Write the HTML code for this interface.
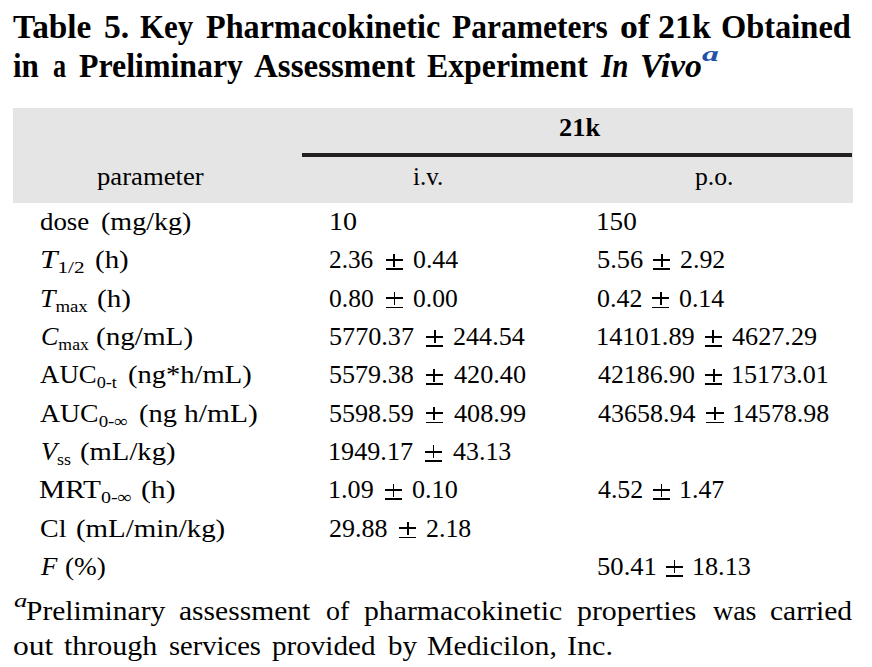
<!DOCTYPE html>
<html><head><meta charset="utf-8"><style>
html,body{margin:0;padding:0;background:#fff;}
body{width:872px;height:667px;position:relative;overflow:hidden;font-family:"Liberation Serif",serif;color:#000;}
.t{position:absolute;white-space:nowrap;line-height:1;transform-origin:0 0;}
.b{font-weight:bold;}
.sub{font-size:0.68em;position:relative;top:0.32em;}
.band{position:absolute;left:13px;top:108px;width:840px;height:95px;background:#e5e5e5;}
.pm{position:absolute;width:17.1px;height:16px;}
.pm i{position:absolute;background:#000;display:block;}
.pm .h1{left:0;top:5.3px;width:17.1px;height:1.8px;}
.pm .h2{left:0;top:14.5px;width:17.1px;height:1.8px;}
.pm .v{left:7.65px;top:0;width:1.8px;height:13px;}
.rule{position:absolute;left:302px;top:153px;width:550px;height:4px;background:#231f20;}
</style></head><body>
<div class="band"></div><div class="rule"></div>
<div class="t b" style="left:13.40px;top:9.59px;font-size:33.20px;transform:scaleX(1.0039)">Table</div>
<div class="t b" style="left:103.78px;top:9.59px;font-size:33.20px;transform:scaleX(1.0140)">5.</div>
<div class="t b" style="left:140.24px;top:9.59px;font-size:33.20px;transform:scaleX(0.9336)">Key</div>
<div class="t b" style="left:206.00px;top:9.59px;font-size:33.20px;transform:scaleX(0.9701)">Pharmacokinetic</div>
<div class="t b" style="left:452.38px;top:9.59px;font-size:33.20px;transform:scaleX(0.9494)">Parameters</div>
<div class="t b" style="left:619.53px;top:9.59px;font-size:33.20px;transform:scaleX(1.0760)">of</div>
<div class="t b" style="left:657.57px;top:9.59px;font-size:33.20px;transform:scaleX(1.0218)">21k</div>
<div class="t b" style="left:720.83px;top:9.59px;font-size:33.20px;transform:scaleX(0.9781)">Obtained</div>
<div class="t b" style="left:13.41px;top:48.59px;font-size:33.20px;transform:scaleX(0.9344)">in</div>
<div class="t b" style="left:52.80px;top:48.59px;font-size:33.20px;transform:scaleX(0.7897)">a</div>
<div class="t b" style="left:79.20px;top:48.59px;font-size:33.20px;transform:scaleX(0.9603)">Preliminary</div>
<div class="t b" style="left:253.60px;top:48.59px;font-size:33.20px;transform:scaleX(0.9938)">Assessment</div>
<div class="t b" style="left:426.82px;top:48.59px;font-size:33.20px;transform:scaleX(0.9583)">Experiment</div>
<div class="t b" style="left:601.31px;top:48.59px;font-size:33.20px;transform:scaleX(0.8783)"><i>In</i></div>
<div class="t b" style="left:639.97px;top:48.59px;font-size:33.20px;transform:scaleX(1.0172)"><i>Vivo</i></div>
<div class="t b" style="left:701.56px;top:43.06px;font-size:21.90px;transform:scaleX(1.5336)"><i style="color:#2350a8">a</i></div>
<div class="t b" style="left:559.37px;top:115.30px;font-size:25.20px;transform:scaleX(1.0492)">21k</div>
<div class="t r" style="left:96.98px;top:163.79px;font-size:25.80px;transform:scaleX(1.0340)">parameter</div>
<div class="t r" style="left:413.00px;top:163.79px;font-size:25.80px;transform:scaleX(0.9667)">i.v.</div>
<div class="t r" style="left:695.20px;top:163.79px;font-size:25.80px;transform:scaleX(0.9953)">p.o.</div>
<div class="t r" style="left:40.20px;top:208.79px;font-size:25.80px;transform:scaleX(1.0416)">dose</div>
<div class="t r" style="left:100.91px;top:208.79px;font-size:25.80px;transform:scaleX(1.0864)">(mg/kg)</div>
<div class="t r" style="left:329.21px;top:208.79px;font-size:25.80px;transform:scaleX(1.0870)">10</div>
<div class="t r" style="left:595.51px;top:208.79px;font-size:25.80px;transform:scaleX(1.0533)">150</div>
<div class="t r" style="left:40.03px;top:246.79px;font-size:25.80px;transform:scaleX(1.2149)"><i>T</i><span class=sub>1/2</span></div>
<div class="t r" style="left:94.50px;top:246.79px;font-size:25.80px;transform:scaleX(1.1221)">(h)</div>
<div class="t r" style="left:329.46px;top:246.79px;font-size:25.80px;transform:scaleX(0.9806)">2.36</div>
<div class="t r" style="left:412.68px;top:246.79px;font-size:25.80px;transform:scaleX(0.9999)">0.44</div>
<div class="t r" style="left:596.58px;top:246.79px;font-size:25.80px;transform:scaleX(1.0255)">5.56</div>
<div class="t r" style="left:679.99px;top:246.79px;font-size:25.80px;transform:scaleX(1.0026)">2.92</div>
<div class="t r" style="left:40.28px;top:285.79px;font-size:25.80px;transform:scaleX(1.0714)"><i>T</i><span class=sub>max</span></div>
<div class="t r" style="left:97.31px;top:285.79px;font-size:25.80px;transform:scaleX(1.1289)">(h)</div>
<div class="t r" style="left:329.39px;top:285.79px;font-size:25.80px;transform:scaleX(0.9901)">0.80</div>
<div class="t r" style="left:412.61px;top:285.79px;font-size:25.80px;transform:scaleX(0.9901)">0.00</div>
<div class="t r" style="left:596.60px;top:285.79px;font-size:25.80px;transform:scaleX(1.0044)">0.42</div>
<div class="t r" style="left:679.07px;top:285.79px;font-size:25.80px;transform:scaleX(1.0009)">0.14</div>
<div class="t r" style="left:40.80px;top:323.79px;font-size:25.80px;transform:scaleX(1.0089)"><i>C</i><span class=sub>max</span></div>
<div class="t r" style="left:95.85px;top:323.79px;font-size:25.80px;transform:scaleX(1.1299)">(ng/mL)</div>
<div class="t r" style="left:329.37px;top:323.79px;font-size:25.80px;transform:scaleX(1.0135)">5770.37</div>
<div class="t r" style="left:453.35px;top:323.79px;font-size:25.80px;transform:scaleX(1.0115)">244.54</div>
<div class="t r" style="left:595.57px;top:323.79px;font-size:25.80px;transform:scaleX(1.0209)">14101.89</div>
<div class="t r" style="left:732.26px;top:323.79px;font-size:25.80px;transform:scaleX(1.0144)">4627.29</div>
<div class="t r" style="left:40.41px;top:361.79px;font-size:25.80px;transform:scaleX(1.0405)">AUC<span class=sub>0-t</span></div>
<div class="t r" style="left:127.77px;top:361.79px;font-size:25.80px;transform:scaleX(1.1065)">(ng*h/mL)</div>
<div class="t r" style="left:329.40px;top:361.79px;font-size:25.80px;transform:scaleX(1.0104)">5579.38</div>
<div class="t r" style="left:453.63px;top:361.79px;font-size:25.80px;transform:scaleX(1.0153)">420.40</div>
<div class="t r" style="left:597.60px;top:361.79px;font-size:25.80px;transform:scaleX(1.0015)">42186.90</div>
<div class="t r" style="left:731.02px;top:361.79px;font-size:25.80px;transform:scaleX(1.0115)">15173.01</div>
<div class="t r" style="left:40.42px;top:400.79px;font-size:25.80px;transform:scaleX(1.0766)">AUC<span class=sub>0-∞</span></div>
<div class="t r" style="left:138.51px;top:400.79px;font-size:25.80px;transform:scaleX(1.1002)">(ng</div>
<div class="t r" style="left:184.00px;top:400.79px;font-size:25.80px;transform:scaleX(1.1440)">h/mL)</div>
<div class="t r" style="left:329.40px;top:400.79px;font-size:25.80px;transform:scaleX(1.0104)">5598.59</div>
<div class="t r" style="left:453.63px;top:400.79px;font-size:25.80px;transform:scaleX(1.0153)">408.99</div>
<div class="t r" style="left:597.60px;top:400.79px;font-size:25.80px;transform:scaleX(1.0067)">43658.94</div>
<div class="t r" style="left:731.89px;top:400.79px;font-size:25.80px;transform:scaleX(1.0050)">14578.98</div>
<div class="t r" style="left:40.59px;top:438.79px;font-size:25.80px;transform:scaleX(1.0220)"><i>V</i><span class=sub>ss</span></div>
<div class="t r" style="left:79.75px;top:438.79px;font-size:25.80px;transform:scaleX(1.1119)">(mL/kg)</div>
<div class="t r" style="left:328.37px;top:438.79px;font-size:25.80px;transform:scaleX(1.0147)">1949.17</div>
<div class="t r" style="left:453.18px;top:438.79px;font-size:25.80px;transform:scaleX(1.0040)">43.13</div>
<div class="t r" style="left:39.31px;top:476.79px;font-size:25.80px;transform:scaleX(1.1401)">MRT<span class=sub>0-∞</span></div>
<div class="t r" style="left:141.08px;top:476.79px;font-size:25.80px;transform:scaleX(1.1488)">(h)</div>
<div class="t r" style="left:328.37px;top:476.79px;font-size:25.80px;transform:scaleX(1.0119)">1.09</div>
<div class="t r" style="left:411.50px;top:476.79px;font-size:25.80px;transform:scaleX(1.0143)">0.10</div>
<div class="t r" style="left:597.60px;top:476.79px;font-size:25.80px;transform:scaleX(1.0012)">4.52</div>
<div class="t r" style="left:678.78px;top:476.79px;font-size:25.80px;transform:scaleX(1.0016)">1.47</div>
<div class="t r" style="left:39.91px;top:515.79px;font-size:25.80px;transform:scaleX(1.0838)">Cl</div>
<div class="t r" style="left:75.88px;top:515.79px;font-size:25.80px;transform:scaleX(1.1197)">(mL/min/kg)</div>
<div class="t r" style="left:329.38px;top:515.79px;font-size:25.80px;transform:scaleX(1.0073)">29.88</div>
<div class="t r" style="left:425.58px;top:515.79px;font-size:25.80px;transform:scaleX(1.0027)">2.18</div>
<div class="t r" style="left:41.00px;top:553.79px;font-size:25.80px;transform:scaleX(1.0392)"><i>F</i></div>
<div class="t r" style="left:64.53px;top:553.79px;font-size:25.80px;transform:scaleX(1.0572)">(%)</div>
<div class="t r" style="left:596.57px;top:553.79px;font-size:25.80px;transform:scaleX(1.0327)">50.41</div>
<div class="t r" style="left:691.65px;top:553.79px;font-size:25.80px;transform:scaleX(1.0126)">18.13</div>
<div class="t r" style="left:13.81px;top:591.40px;font-size:19.10px;transform:scaleX(1.3956)"><i>a</i></div>
<div class="t r" style="left:26.37px;top:597.28px;font-size:27.60px;transform:scaleX(1.0685)">Preliminary</div>
<div class="t r" style="left:179.34px;top:597.28px;font-size:27.60px;transform:scaleX(1.0706)">assessment</div>
<div class="t r" style="left:325.79px;top:597.28px;font-size:27.60px;transform:scaleX(1.0140)">of</div>
<div class="t r" style="left:364.42px;top:597.28px;font-size:27.60px;transform:scaleX(1.0778)">pharmacokinetic</div>
<div class="t r" style="left:577.42px;top:597.28px;font-size:27.60px;transform:scaleX(1.0818)">properties</div>
<div class="t r" style="left:713.00px;top:597.28px;font-size:27.60px;transform:scaleX(1.0123)">was</div>
<div class="t r" style="left:769.56px;top:597.28px;font-size:27.60px;transform:scaleX(1.0711)">carried</div>
<div class="t r" style="left:12.86px;top:632.28px;font-size:27.60px;transform:scaleX(1.1446)">out</div>
<div class="t r" style="left:64.00px;top:632.28px;font-size:27.60px;transform:scaleX(1.0849)">through</div>
<div class="t r" style="left:168.97px;top:632.28px;font-size:27.60px;transform:scaleX(1.0345)">services</div>
<div class="t r" style="left:272.39px;top:632.28px;font-size:27.60px;transform:scaleX(1.0551)">provided</div>
<div class="t r" style="left:388.42px;top:632.28px;font-size:27.60px;transform:scaleX(1.0505)">by</div>
<div class="t r" style="left:426.77px;top:632.28px;font-size:27.60px;transform:scaleX(1.0791)">Medicilon,</div>
<div class="t r" style="left:566.54px;top:632.28px;font-size:27.60px;transform:scaleX(1.0926)">Inc.</div>
<div class="pm" style="left:385.56px;top:253.83px"><i class="h1"></i><i class="v"></i><i class="h2"></i></div>
<div class="pm" style="left:653.10px;top:253.83px"><i class="h1"></i><i class="v"></i><i class="h2"></i></div>
<div class="pm" style="left:386.05px;top:292.16px"><i class="h1"></i><i class="v"></i><i class="h2"></i></div>
<div class="pm" style="left:652.11px;top:292.16px"><i class="h1"></i><i class="v"></i><i class="h2"></i></div>
<div class="pm" style="left:426.27px;top:330.49px"><i class="h1"></i><i class="v"></i><i class="h2"></i></div>
<div class="pm" style="left:704.51px;top:330.49px"><i class="h1"></i><i class="v"></i><i class="h2"></i></div>
<div class="pm" style="left:425.81px;top:368.82px"><i class="h1"></i><i class="v"></i><i class="h2"></i></div>
<div class="pm" style="left:705.10px;top:368.82px"><i class="h1"></i><i class="v"></i><i class="h2"></i></div>
<div class="pm" style="left:425.81px;top:407.15px"><i class="h1"></i><i class="v"></i><i class="h2"></i></div>
<div class="pm" style="left:706.46px;top:407.15px"><i class="h1"></i><i class="v"></i><i class="h2"></i></div>
<div class="pm" style="left:425.00px;top:445.48px"><i class="h1"></i><i class="v"></i><i class="h2"></i></div>
<div class="pm" style="left:385.04px;top:483.81px"><i class="h1"></i><i class="v"></i><i class="h2"></i></div>
<div class="pm" style="left:652.95px;top:483.81px"><i class="h1"></i><i class="v"></i><i class="h2"></i></div>
<div class="pm" style="left:399.17px;top:522.14px"><i class="h1"></i><i class="v"></i><i class="h2"></i></div>
<div class="pm" style="left:666.06px;top:560.47px"><i class="h1"></i><i class="v"></i><i class="h2"></i></div>
</body></html>
